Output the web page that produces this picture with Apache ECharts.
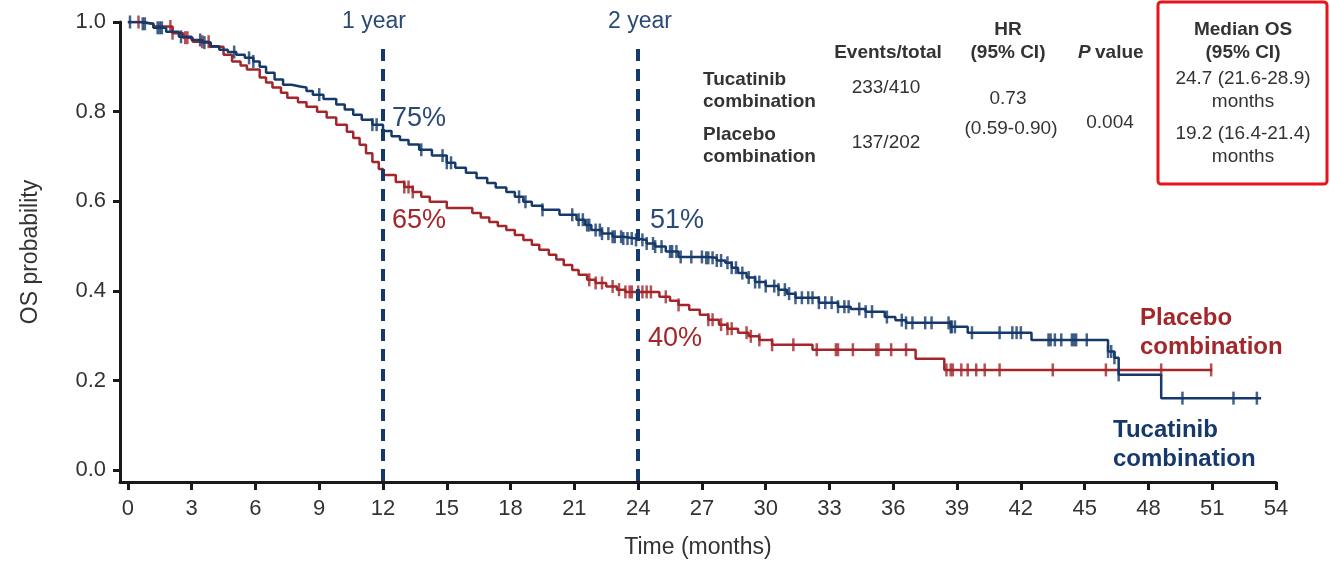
<!DOCTYPE html>
<html lang="en" style="height: 100%">

<head>
  <meta charset="utf-8">
</head>

<body style="height: 100%; margin: 0">
  <div id="container" style="height: 100%"></div>

  <script type="text/javascript" src="https://fastly.jsdelivr.net/npm/echarts@6.0.0/dist/echarts.min.js"></script>

  <script type="text/javascript">
    // Kaplan-Meier OS curves (time in months, probability)
    var tucTimes = [0, 0.6, 1.2, 1.8, 2.4, 3.0, 3.5, 3.9, 4.3, 4.7, 5.1, 5.5, 5.9, 6.2, 6.5, 6.9, 7.3, 7.7, 8.1, 8.4, 8.7, 9.2, 9.8, 10.2, 10.6, 11.0, 11.5, 12.0, 12.4, 12.8, 13.2, 13.7, 14.3, 15.0, 15.4, 15.9, 16.4, 16.9, 17.3, 17.8, 18.2, 18.6, 19.0, 19.5, 20.3, 21.1, 21.5, 21.8, 22.3, 22.8, 23.3, 23.9, 24.4, 24.8, 25.3, 25.9, 27.2, 27.7, 28.1, 28.4, 28.7, 29.1, 29.5, 30.0, 30.6, 31.0, 31.4, 32.5, 33.4, 34.0, 34.7, 35.6, 36.1, 36.6, 38.7, 39.5, 42.5, 46.1, 46.4, 46.6, 48.6, 53.3];
    var tucSurv = [1.0, 0.996, 0.987, 0.978, 0.967, 0.96, 0.954, 0.946, 0.938, 0.933, 0.927, 0.92, 0.912, 0.9, 0.887, 0.872, 0.86, 0.856, 0.854, 0.846, 0.838, 0.828, 0.816, 0.805, 0.793, 0.782, 0.771, 0.757, 0.745, 0.737, 0.727, 0.715, 0.702, 0.686, 0.675, 0.664, 0.652, 0.641, 0.631, 0.621, 0.61, 0.599, 0.59, 0.581, 0.57, 0.559, 0.547, 0.536, 0.528, 0.521, 0.517, 0.514, 0.506, 0.499, 0.488, 0.476, 0.474, 0.468, 0.463, 0.452, 0.44, 0.43, 0.42, 0.411, 0.403, 0.394, 0.385, 0.374, 0.365, 0.36, 0.354, 0.342, 0.335, 0.329, 0.32, 0.307, 0.291, 0.265, 0.251, 0.213, 0.161, 0.161];
    var tucCensor = [0.1, 0.7, 0.8, 1.4, 1.5, 1.6, 2.5, 3.4, 3.6, 5.0, 5.7, 5.9, 9.0, 11.5, 11.7, 13.8, 14.8, 15.0, 15.2, 18.4, 18.7, 19.5,
      20.9, 21.2, 21.4, 21.6, 21.7, 22.0, 22.2, 22.3, 22.6, 22.8, 22.9, 23.2, 23.3, 23.5, 23.7, 23.9,
      24.2, 24.4, 24.7, 24.8, 25.1, 25.5, 25.6, 25.8, 26.0, 26.5, 27.0, 27.2, 27.3, 27.5, 27.7, 27.9, 28.2, 28.4, 28.6, 28.9,
      29.2, 29.5, 29.7, 30.0, 30.4, 30.6, 30.9, 31.1, 31.4, 31.7, 32.0, 32.2, 32.5, 32.8, 33.1, 33.4, 33.7, 33.9, 34.4, 34.7,
      35.0, 35.7, 36.4, 36.6, 36.9, 37.5, 37.8, 38.6, 38.7, 38.75, 38.9, 39.7, 41.0, 41.6, 41.8, 42.0, 43.3, 43.4, 43.6, 43.9,
      44.4, 44.5, 44.6, 45.1, 46.1, 46.25, 46.4, 46.6, 49.6, 52.0, 53.1];

    var placTimes = [0, 0.6, 1.2, 2.1, 2.6, 3.05, 3.85, 4.5, 4.9, 5.3, 5.6, 6.2, 6.5, 6.8, 7.2, 7.5, 8.0, 8.4, 8.9, 9.35, 9.8, 10.3, 10.6, 10.9, 11.2, 11.5, 11.8, 12.0, 12.6, 13.0, 13.4, 13.8, 14.2, 15.0, 16.2, 16.6, 17.0, 17.4, 17.8, 18.2, 18.6, 19.0, 19.35, 19.8, 20.15, 20.5, 20.9, 21.2, 21.6, 22.0, 22.5, 23.0, 23.4, 25.0, 25.5, 25.9, 26.4, 26.9, 27.3, 27.8, 28.2, 28.7, 29.2, 29.7, 30.3, 32.2, 37.05, 38.4, 51.0];
    var placSurv = [1.0, 0.996, 0.99, 0.975, 0.965, 0.956, 0.945, 0.927, 0.912, 0.903, 0.894, 0.876, 0.865, 0.854, 0.842, 0.831, 0.821, 0.811, 0.8, 0.787, 0.771, 0.755, 0.741, 0.726, 0.707, 0.688, 0.672, 0.659, 0.643, 0.632, 0.621, 0.61, 0.599, 0.585, 0.574, 0.564, 0.554, 0.545, 0.536, 0.525, 0.514, 0.503, 0.492, 0.481, 0.47, 0.458, 0.447, 0.436, 0.425, 0.418, 0.41, 0.403, 0.398, 0.387, 0.378, 0.369, 0.358, 0.347, 0.336, 0.325, 0.316, 0.307, 0.299, 0.291, 0.28, 0.269, 0.249, 0.224, 0.224];
    var placCensor = [0.5, 2.0, 2.1, 2.7, 2.8, 3.5, 3.8, 13.0, 13.2, 13.4, 21.7, 22.0, 22.3, 22.8, 23.1, 23.4, 23.6, 23.7, 24.0,
      24.2, 24.4, 24.6, 25.3, 25.9, 27.3, 27.5, 27.9, 28.2, 28.4, 29.1, 29.3, 29.7, 30.3, 31.3, 32.4, 33.3, 33.4, 34.1, 35.2,
      35.3, 35.9, 36.6, 38.5, 38.7, 38.8, 39.2, 39.5, 39.9, 40.3, 41.0, 43.5, 46.0, 48.6, 50.95];

    var xTicks = [0, 3, 6, 9, 12, 15, 18, 21, 24, 27, 30, 33, 36, 39, 42, 45, 48, 51, 54];
    var yTicks = [0, 0.2, 0.4, 0.6, 0.8, 1.0];
    var landmarkMonths = [12, 24];

    var NAVY = '#15396a';
    var RED = '#a3262a';
    var FONT = '"Liberation Sans", Arial, sans-serif';

    function toPairs(ts, ss) {
      return ts.map(function (t, i) { return [t, ss[i]]; });
    }
    function survAt(ts, ss, t) {
      var v = ss[0];
      for (var i = 0; i < ts.length; i++) {
        if (ts[i] <= t) v = ss[i];
      }
      return v;
    }
    function censorPts(cs, ts, ss) {
      return cs.map(function (t) { return [t, survAt(ts, ss, t)]; });
    }

    var dom = document.getElementById('container');
    var myChart = echarts.init(dom, null, { renderer: 'canvas' });

    var txt = function (text, x, y, opts) {
      opts = opts || {};
      return {
        type: 'text',
        z: 10,
        style: {
          text: text,
          x: x,
          y: y,
          fill: opts.fill || '#333',
          font: (opts.weight || 'normal') + ' ' + (opts.size || 19) + 'px ' + FONT,
          textAlign: opts.align || 'center',
          textVerticalAlign: 'middle'
        }
      };
    };

    var option = {
      animation: false,
      grid: { left: 120, right: 54, top: 22, bottom: 79, containLabel: false, outerBoundsMode: 'none' },
      xAxis: {
        type: 'value',
        min: -0.37,
        max: 54,
        name: 'Time (months)',
        nameLocation: 'middle',
        nameGap: 54,
        nameTextStyle: { fontSize: 23, color: '#333', fontFamily: FONT },
        splitLine: { show: false },
        axisLine: { show: true, onZero: false, lineStyle: { color: '#1a1a1a', width: 3 } },
        axisTick: { show: true, customValues: xTicks, length: 8, lineStyle: { color: '#1a1a1a', width: 3 } },
        axisLabel: { customValues: xTicks, fontSize: 22, color: '#333', fontFamily: FONT, margin: 16 }
      },
      yAxis: {
        type: 'value',
        min: -0.026,
        max: 1.0,
        name: 'OS probability',
        nameLocation: 'middle',
        nameGap: 78,
        nameRotate: 90,
        nameTextStyle: { fontSize: 23, color: '#333', fontFamily: FONT },
        splitLine: { show: false },
        axisLine: { show: true, onZero: false, lineStyle: { color: '#1a1a1a', width: 3 } },
        axisTick: { show: true, customValues: yTicks, length: 7, lineStyle: { color: '#1a1a1a', width: 3 } },
        axisLabel: {
          customValues: yTicks, fontSize: 22, color: '#333', fontFamily: FONT, margin: 14,
          formatter: function (v) { return v.toFixed(1); }
        }
      },
      series: [
        {
          name: 'Placebo combination',
          type: 'line',
          step: 'end',
          showSymbol: false,
          data: toPairs(placTimes, placSurv),
          lineStyle: { color: RED, width: 2.5 },
          itemStyle: { color: RED },
          z: 3
        },
        {
          name: 'Placebo censored',
          type: 'scatter',
          symbol: 'rect',
          symbolSize: [2.5, 13],
          data: censorPts(placCensor, placTimes, placSurv),
          itemStyle: { color: RED },
          z: 3
        },
        {
          name: 'Tucatinib combination',
          type: 'line',
          step: 'end',
          showSymbol: false,
          data: toPairs(tucTimes, tucSurv),
          lineStyle: { color: NAVY, width: 2.5 },
          itemStyle: { color: NAVY },
          z: 4,
          markLine: {
            silent: true,
            symbol: 'none',
            label: { show: false },
            lineStyle: { color: NAVY, width: 4, type: [12, 8] },
            data: landmarkMonths.map(function (m) {
              return [{ coord: [m, 0.94] }, { coord: [m, -0.026] }];
            })
          }
        },
        {
          name: 'Tucatinib censored',
          type: 'scatter',
          symbol: 'rect',
          symbolSize: [2.5, 13],
          data: censorPts(tucCensor, tucTimes, tucSurv),
          itemStyle: { color: NAVY },
          z: 4
        }
      ],
      graphic: [
        txt('1 year', 374, 22, { fill: '#2b4a78', size: 23 }),
        txt('2 year', 640, 22, { fill: '#2b4a78', size: 23 }),
        txt('75%', 392, 119, { fill: '#2b4a78', size: 27, align: 'left' }),
        txt('65%', 392, 221, { fill: RED, size: 27, align: 'left' }),
        txt('51%', 650, 221, { fill: '#2b4a78', size: 27, align: 'left' }),
        txt('40%', 648, 339, { fill: RED, size: 27, align: 'left' }),
        txt('Placebo', 1140, 318, { fill: RED, size: 24, weight: 'bold', align: 'left' }),
        txt('combination', 1140, 347, { fill: RED, size: 24, weight: 'bold', align: 'left' }),
        txt('Tucatinib', 1113, 430, { fill: NAVY, size: 24, weight: 'bold', align: 'left' }),
        txt('combination', 1113, 459, { fill: NAVY, size: 24, weight: 'bold', align: 'left' }),
        // results table
        txt('Events/total', 888, 53, { weight: 'bold' }),
        txt('HR', 1008, 30, { weight: 'bold' }),
        txt('(95% CI)', 1008, 53, { weight: 'bold' }),
        txt('P', 1078, 53, { weight: 'italic bold', align: 'left' }),
        txt('value', 1095, 53, { weight: 'bold', align: 'left' }),
        txt('Median OS', 1243, 30, { weight: 'bold' }),
        txt('(95% CI)', 1243, 53, { weight: 'bold' }),
        txt('Tucatinib', 703, 80, { weight: 'bold', align: 'left' }),
        txt('combination', 703, 102, { weight: 'bold', align: 'left' }),
        txt('Placebo', 703, 135, { weight: 'bold', align: 'left' }),
        txt('combination', 703, 157, { weight: 'bold', align: 'left' }),
        txt('233/410', 886, 88),
        txt('137/202', 886, 143),
        txt('0.73', 1008, 99),
        txt('(0.59-0.90)', 1011, 129),
        txt('0.004', 1110, 123),
        txt('24.7 (21.6-28.9)', 1243, 79),
        txt('months', 1243, 102),
        txt('19.2 (16.4-21.4)', 1243, 134),
        txt('months', 1243, 157),
        {
          type: 'rect',
          z: 10,
          shape: { x: 1158, y: 2, width: 169, height: 182, r: 3 },
          style: { fill: 'none', stroke: '#e8141c', lineWidth: 3 }
        }
      ]
    };

    myChart.setOption(option);
    window.addEventListener('resize', myChart.resize);
  </script>
</body>

</html>
